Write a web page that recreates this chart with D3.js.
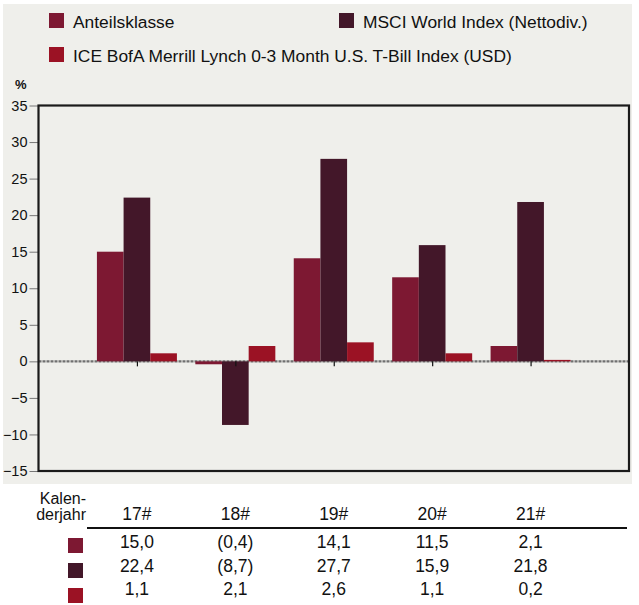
<!DOCTYPE html>
<html>
<head>
<meta charset="utf-8">
<script src="https://cdn.jsdelivr.net/npm/d3@7"></script>
<style>
  html, body { margin: 0; padding: 0; background: #ffffff; }
  svg, svg text { font-family: Arial, "Liberation Sans", Helvetica, sans-serif; }
  svg { display: block; }
</style>
</head>
<body>
<svg id="chart" width="639" height="605"></svg>
<script>
// ---- data ----
const categories = ["17#", "18#", "19#", "20#", "21#"];
const seriesNames = ["Anteilsklasse", "MSCI World Index (Nettodiv.)", "ICE BofA Merrill Lynch 0-3 Month U.S. T-Bill Index (USD)"];
const seriesColors = ["#7d1832", "#431729", "#9b1224"];
const anteilsklasse = [15.0, -0.4, 14.1, 11.5, 2.1];
const msciWorld = [22.4, -8.7, 27.7, 15.9, 21.8];
const iceBofa = [1.1, 2.1, 2.6, 1.1, 0.2];
const yTicks = [-15, -10, -5, 0, 5, 10, 15, 20, 25, 30, 35];
const yLabel = "%";
const tableHeader = ["Kalen-", "derjahr"];

const FONT = "Arial, 'Liberation Sans', Helvetica, sans-serif";
const seriesValues = [anteilsklasse, msciWorld, iceBofa];
const keys = ["a", "m", "i"];
const rows = categories.map((c, i) => ({ cat: c, a: anteilsklasse[i], m: msciWorld[i], i: iceBofa[i] }));

const svg = d3.select("#chart");

// panel background
svg.append("rect").attr("x", 3).attr("y", 4).attr("width", 629).attr("height", 480).attr("fill", "#efefeb");

// ---- scales ----
const plot = { left: 38.5, right: 629, top: 105.5, bottom: 471 };
const x = d3.scalePoint().domain(categories).range([plot.left, plot.right]).padding(1);
const xInner = d3.scaleBand().domain(keys).range([-40, 40]).paddingInner(0);
const y = d3.scaleLinear().domain([-15, 35]).range([plot.bottom, plot.top]);

// ---- legend ----
const legendPos = [[49, 13], [339, 13], [49, 47]];
const legend = svg.append("g").attr("font-family", FONT);
seriesNames.forEach((name, i) => {
  const [lx, ly] = legendPos[i];
  legend.append("rect").attr("x", lx).attr("y", ly).attr("width", 15).attr("height", 15).attr("fill", seriesColors[i]);
  legend.append("text").attr("x", lx + 24).attr("y", ly + 15).attr("font-size", 17.4).attr("fill", "#111").text(name);
});

// y label
svg.append("text").attr("x", 15).attr("y", 89).attr("font-family", FONT).attr("font-size", 13).attr("font-weight", "bold").attr("fill", "#111").text(yLabel);

// ---- y axis ----
const yAxis = svg.append("g").attr("transform", `translate(${plot.left},0)`)
  .call(d3.axisLeft(y).tickValues(yTicks).tickSize(9).tickPadding(2).tickFormat(d3.format("d")));
yAxis.attr("font-family", FONT);
yAxis.select(".domain").remove();
yAxis.selectAll(".tick line").attr("stroke", "#777");
yAxis.selectAll(".tick text").attr("font-size", 14.5).attr("fill", "#111");

// zero line
svg.append("line")
  .attr("x1", plot.left).attr("x2", plot.right)
  .attr("y1", y(0)).attr("y2", y(0))
  .attr("stroke", "#707070").attr("stroke-width", 2.4).attr("stroke-dasharray", "3,1");

// ---- bars ----
const groups = svg.append("g").selectAll("g").data(rows).join("g")
  .attr("transform", d => `translate(${x(d.cat)},0)`);
groups.selectAll("rect").data(d => keys.map((k, j) => ({ k, j, v: d[k] }))).join("rect")
  .attr("x", d => xInner(d.k))
  .attr("width", xInner.bandwidth())
  .attr("y", d => y(Math.max(0, d.v)))
  .attr("height", d => Math.abs(y(d.v) - y(0)))
  .attr("fill", d => seriesColors[d.j]);

// category ticks on zero line
const xAxis = svg.append("g").attr("transform", `translate(0,${y(0)})`)
  .call(d3.axisBottom(x).tickSize(5).tickFormat(""));
xAxis.select(".domain").remove();
xAxis.selectAll(".tick line").attr("stroke", "#111").attr("stroke-width", 1.2);

// frame
svg.append("rect").attr("x", plot.left).attr("y", plot.top)
  .attr("width", plot.right - plot.left).attr("height", plot.bottom - plot.top)
  .attr("fill", "none").attr("stroke", "#1a1a1a").attr("stroke-width", 2.2);

// ---- table ----
const fmt = v => {
  const s = d3.format(".1f")(Math.abs(v)).replace(".", ",");
  return v < 0 ? `(${s})` : s;
};
const table = svg.append("g").attr("font-family", FONT).attr("font-size", 17.5).attr("fill", "#111");
table.append("text").attr("x", 86).attr("y", 504).attr("font-size", 16).attr("text-anchor", "end").text(tableHeader[0]);
table.append("text").attr("x", 86).attr("y", 520).attr("font-size", 16).attr("text-anchor", "end").text(tableHeader[1]);
table.selectAll("text.hdr").data(categories).join("text").attr("class", "hdr")
  .attr("x", d => x(d)).attr("y", 520).attr("text-anchor", "middle").text(d => d);
table.append("line").attr("x1", 87).attr("x2", 627).attr("y1", 528).attr("y2", 528)
  .attr("stroke", "#111").attr("stroke-width", 2);

const rowBase = [548, 571.5, 595];
const rowSq = [538, 563, 588];
seriesValues.forEach((vals, r) => {
  table.append("rect").attr("x", 68).attr("y", rowSq[r]).attr("width", 15).attr("height", 15).attr("fill", seriesColors[r]);
  table.selectAll(`text.r${r}`).data(vals).join("text").attr("class", `r${r}`)
    .attr("x", (d, i) => x(categories[i])).attr("y", rowBase[r])
    .attr("text-anchor", "middle").text(d => fmt(d));
});
</script>
</body>
</html>
